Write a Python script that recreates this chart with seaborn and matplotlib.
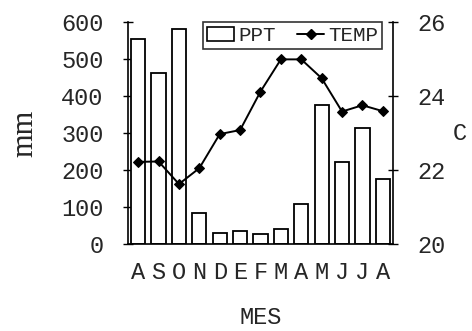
import matplotlib
matplotlib.use("Agg")
import matplotlib.pyplot as plt
import seaborn as sns
import numpy as np
import pandas as pd
from matplotlib.patches import Patch
from matplotlib.lines import Line2D

months = ["A", "S", "O", "N", "D", "E", "F", "M", "A", "M", "J", "J", "A"]
ppt = [554, 463, 580, 83, 29, 34, 26, 40, 109, 376, 222, 313, 176]
temp = [22.22, 22.23, 21.62, 22.05, 22.97, 23.08, 24.12, 24.99, 24.99, 24.48, 23.58, 23.75, 23.59]
left_ticks = [0, 100, 200, 300, 400, 500, 600]
right_ticks = [20, 22, 24, 26]

sns.set_theme(style="white")
plt.rcParams['font.family'] = ['Liberation Mono', 'DejaVu Sans']

df = pd.DataFrame({"idx": list(range(len(months))), "ppt": ppt, "temp": temp})

fig = plt.figure(figsize=(4.72, 3.31), dpi=100)
ax = fig.add_axes([128/472, 1-244/331, (393-128)/472, (244-22)/331])
sns.barplot(data=df, x="idx", y="ppt", ax=ax, color="white", edgecolor="black",
            linewidth=1.3, width=0.7, saturation=1)
ax.set_xlim(-0.5, len(months)-0.5)
ax.set_ylim(0, 600)
ax.set_yticks(left_ticks)
ax.set_yticklabels([str(t) for t in left_ticks], fontsize=17)
ax.set_xticks(range(len(months)))
ax.set_xticklabels(months, fontsize=17)
ax.set_xticks(np.arange(-0.5, len(months), 1.0), minor=True)
ax.tick_params(axis="x", which="major", length=0, pad=12)
ax.tick_params(axis="x", which="minor", length=6, direction="inout", width=1, color="black")
ax.tick_params(axis="y", length=7, direction="inout", width=1, color="black", pad=14)
ax.set_xlabel("MES", fontsize=17, labelpad=16)
ax.set_ylabel("mm", fontsize=22, family=['Liberation Serif'], labelpad=16)
for s in ["top", "right"]:
    ax.spines[s].set_visible(False)
for s in ["left", "bottom"]:
    ax.spines[s].set_color("black")
    ax.spines[s].set_linewidth(1.2)

ax2 = ax.twinx()
sns.lineplot(data=df, x="idx", y="temp", ax=ax2, color="black", marker="D",
             markersize=5, linewidth=1.4, markeredgecolor="black")
ax2.set_ylim(20, 26)
ax2.set_yticks(right_ticks)
ax2.set_yticklabels([str(t) for t in right_ticks], fontsize=17)
ax2.tick_params(axis="y", length=7, direction="inout", width=1, color="black", pad=14)
ax2.set_ylabel("C", fontsize=17, rotation=0, labelpad=10, va="center")
ax2.set_xlim(-0.5, len(months)-0.5)
ax2.set_xlabel("")
for s in ["top", "left", "bottom"]:
    ax2.spines[s].set_visible(False)
ax2.spines["right"].set_color("black")
ax2.spines["right"].set_linewidth(1.2)

handles = [Patch(facecolor="white", edgecolor="black", linewidth=1.2),
           Line2D([0], [0], color="black", marker="D", markersize=5, linewidth=1.4)]
leg = ax2.legend(handles, ["PPT", "TEMP"], ncol=2, loc="upper right",
                 bbox_to_anchor=(0.96, 1.0), fontsize=15, frameon=True,
                 fancybox=False, edgecolor="black", handlelength=1.3,
                 handletextpad=0.2, columnspacing=1.0, borderpad=0.2,
                 borderaxespad=0.0)
leg.get_frame().set_linewidth(1.2)

fig.savefig("out.png", dpi=100)
